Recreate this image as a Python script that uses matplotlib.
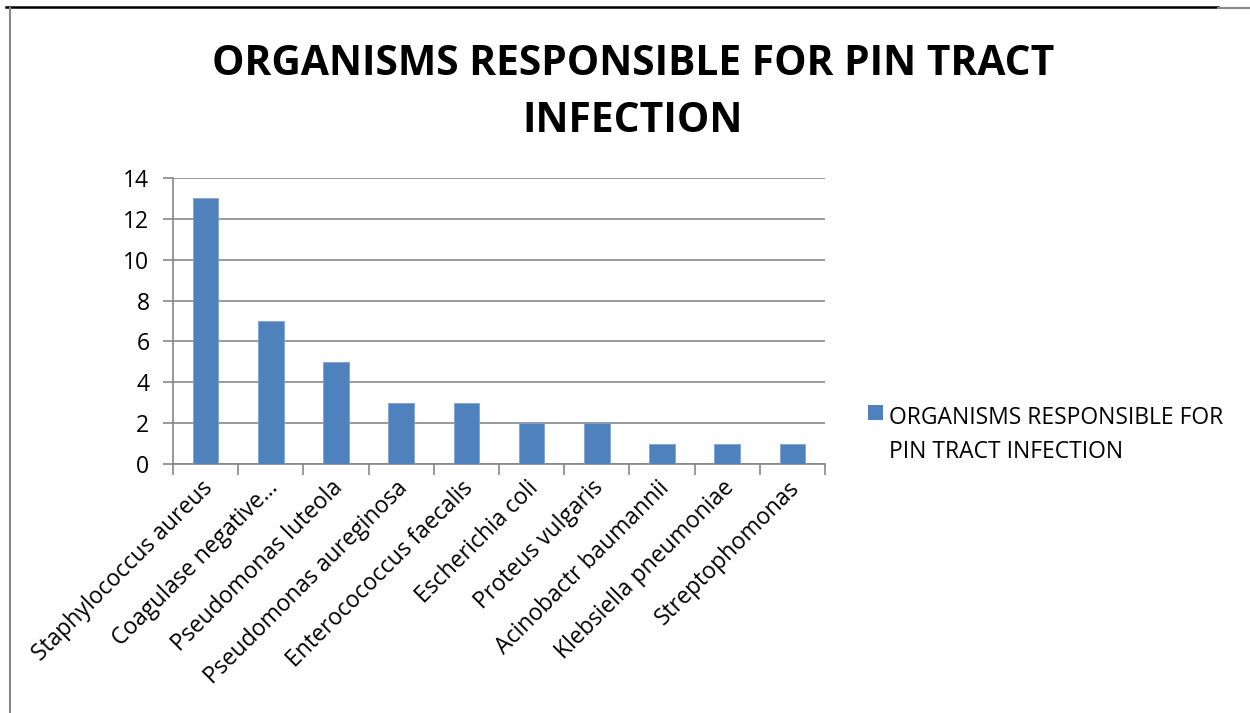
import matplotlib.pyplot as plt
from matplotlib.lines import Line2D
from matplotlib.patches import Rectangle

organisms = ['Staphylococcus aureus', 'Coagulase negative...', 'Pseudomonas luteola',
             'Pseudomonas aureginosa', 'Enterocococcus faecalis', 'Escherichia coli',
             'Proteus vulgaris', 'Acinobactr baumannii', 'Klebsiella pneumoniae',
             'Streptophomonas']
counts = [13, 7, 5, 3, 3, 2, 2, 1, 1, 1]
series_name = 'ORGANISMS RESPONSIBLE FOR PIN TRACT INFECTION'
yticks = [0, 2, 4, 6, 8, 10, 12, 14]

plt.rcParams['font.family'] = ['Open Sans', 'DejaVu Sans']

W, H = 1250, 713
fig = plt.figure(figsize=(12.5, 7.13), dpi=100)
ax = fig.add_axes([173 / W, 1 - 464 / H, 652 / W, 286 / H])

bar_col = '#4F81BD'
x = list(range(len(organisms)))
ax.bar(x, counts, width=0.39, color=bar_col, edgecolor='#7EA3D1', linewidth=0.6, zorder=3)

ax.set_xlim(-0.5, len(organisms) - 0.5)
ax.set_ylim(0, 14)
ax.set_yticks(yticks)
ax.yaxis.grid(True, color='#878787', linewidth=1.2, zorder=0)
ax.tick_params(axis='y', length=7, width=1.2, color='#878787', labelsize=16.5, pad=10)

ax.set_xticks([i - 0.5 for i in range(len(organisms) + 1)])
ax.set_xticklabels([])
ax.tick_params(axis='x', length=8, width=1.2, color='#878787')
for i, name in enumerate(organisms):
    ax.text(i + 0.05, -1.0, name, rotation=45, rotation_mode='anchor',
            ha='right', va='center', fontsize=16.5, transform=ax.transData)

for s in ['top', 'right']:
    ax.spines[s].set_visible(False)
for s in ['left', 'bottom']:
    ax.spines[s].set_color('#878787')
    ax.spines[s].set_linewidth(1.2)

fig.text(633 / W, 1 - 93 / H, 'ORGANISMS RESPONSIBLE FOR PIN TRACT\nINFECTION',
         ha='center', va='center', fontsize=29.3, fontweight='bold', linespacing=1.5)

# legend: square aligned to the first line of the series name
fig.add_artist(Rectangle((868 / W, 1 - 420 / H), 15 / W, 15 / H, transform=fig.transFigure,
                         facecolor=bar_col, edgecolor='none'))
fig.text(889 / W, 1 - 435 / H, 'ORGANISMS RESPONSIBLE FOR\nPIN TRACT INFECTION',
         ha='left', va='center', fontsize=16.5, linespacing=1.55)

# chart frame edges (cropped)
fig.add_artist(Line2D([6 / W, 1218 / W], [1 - 7 / H, 1 - 7 / H], color='black', linewidth=1.8))
fig.add_artist(Line2D([1218 / W, 1], [1 - 7.5 / H, 1 - 7.5 / H], color='#888888', linewidth=1.5))
fig.add_artist(Line2D([10 / W, 10 / W], [0, 1 - 8 / H], color='#888888', linewidth=1.5))

fig.savefig('out.png', dpi=100)
